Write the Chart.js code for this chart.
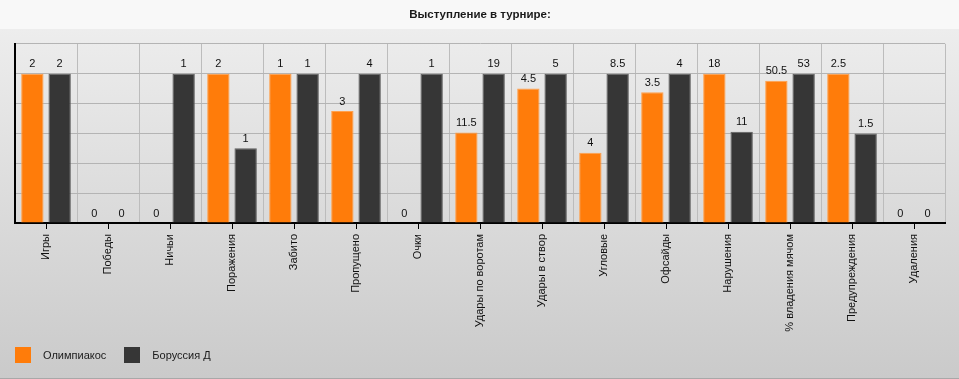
<!DOCTYPE html>
<html>
<head>
<meta charset="utf-8">
<script src="https://cdn.jsdelivr.net/npm/chart.js@4.4.3/dist/chart.umd.min.js"></script>
<style>
    html, body { margin: 0; padding: 0; }
    body { width: 959px; height: 379px; position: relative; overflow: hidden; font-family: Arial, "Liberation Sans", sans-serif; }
    #chart { position: absolute; left: 0; top: 0; }
    #legend { position: absolute; left: 15px; top: 347px; display: flex; align-items: center; font-size: 11px; color: #1a1a1a; }
    #legend .item { display: flex; align-items: center; margin-right: 18px; }
    #legend .box { width: 16px; height: 16px; margin-right: 12px; }
</style>
</head>
<body>
<canvas id="chart" width="959" height="379"></canvas>
<div id="legend"></div>
<script>
const categories = ['Игры', 'Победы', 'Ничьи', 'Поражения', 'Забито', 'Пропущено', 'Очки',
    'Удары по воротам', 'Удары в створ', 'Угловые', 'Офсайды', 'Нарушения',
    '% владения мячом', 'Предупреждения', 'Удаления'];
const teamNames = ['Олимпиакос', 'Боруссия Д'];
const olympiakos = [2, 0, 0, 2, 1, 3, 0, 11.5, 4.5, 4, 3.5, 18, 50.5, 2.5, 0];
const borussia = [2, 0, 1, 1, 1, 4, 1, 19, 5, 8.5, 4, 11, 53, 1.5, 0];
const yTicks = [0, 20, 40, 60, 80, 100, 120];

const FONT = 'Arial, "Liberation Sans", sans-serif';
const colors = ['#ff7c0a', '#363636'];
const borders = ['#ffa04d', '#5e5e5e'];

// each pair is drawn relative to the bigger value of the two (the bigger one = 100)
function share(a, b) {
    return a.map((v, i) => {
        const m = Math.max(v, b[i]);
        return m > 0 ? v / m * 100 : 0;
    });
}

const raw = [olympiakos, borussia];
const plotted = [share(olympiakos, borussia), share(borussia, olympiakos)];

const bgPlugin = {
    id: 'bg',
    beforeDraw(chart) {
        const c = chart.ctx;
        const w = chart.width, h = chart.height;
        const g = c.createLinearGradient(0, 29, 0, h);
        g.addColorStop(0, '#ededed');
        g.addColorStop(1, '#cacaca');
        c.save();
        c.fillStyle = g;
        c.fillRect(0, 0, w, h);
        c.fillStyle = '#f8f8f8';
        c.fillRect(0, 0, w, 29);
        c.fillStyle = '#a8a8a8';
        c.fillRect(0, h - 1, w, 1);
        c.restore();
    }
};

const valueLabels = {
    id: 'valueLabels',
    afterDatasetsDraw(chart) {
        const c = chart.ctx;
        c.save();
        c.font = '11px ' + FONT;
        c.fillStyle = '#111';
        c.textAlign = 'center';
        c.textBaseline = 'bottom';
        chart.data.datasets.forEach((ds, di) => {
            chart.getDatasetMeta(di).data.forEach((bar, i) => {
                c.fillText(String(raw[di][i]), bar.x, bar.y - 4);
            });
        });
        c.restore();
    }
};

const centerTicks = {
    id: 'centerTicks',
    afterDraw(chart) {
        const x = chart.scales.x;
        const c = chart.ctx;
        c.save();
        c.strokeStyle = '#000';
        c.lineWidth = 1;
        categories.forEach((_, i) => {
            const px = Math.round(x.getPixelForValue(i)) + 0.5;
            c.beginPath();
            c.moveTo(px, x.top + 1);
            c.lineTo(px, x.top + 6);
            c.stroke();
        });
        c.restore();
    }
};

const chart = new Chart(document.getElementById('chart').getContext('2d'), {
    type: 'bar',
    data: {
        labels: categories,
        datasets: teamNames.map((name, i) => ({
            label: name,
            data: plotted[i],
            backgroundColor: colors[i],
            borderColor: borders[i],
            borderWidth: ctx => (ctx.raw > 0 ? 1 : 0),
            categoryPercentage: 0.88,
            barPercentage: 0.82
        }))
    },
    options: {
        responsive: false,
        animation: false,
        devicePixelRatio: 1,
        layout: { padding: { left: 15, right: 14, top: 0, bottom: 0 } },
        plugins: {
            legend: { display: false },
            tooltip: { enabled: false },
            title: {
                display: true,
                text: 'Выступление в турнире:',
                color: '#1a1a1a',
                font: { family: FONT, size: 11.5, weight: 'bold' },
                padding: { top: 8, bottom: 22 }
            }
        },
        scales: {
            x: {
                grid: { color: '#bcbcbc', drawTicks: false, offset: true },
                border: { color: '#000', width: 2 },
                ticks: {
                    color: '#111',
                    font: { family: FONT, size: 11 },
                    minRotation: 90,
                    maxRotation: 90,
                    padding: 11,
                    autoSkip: false
                },
                afterFit: s => { s.height = 156; }
            },
            y: {
                min: yTicks[0],
                max: yTicks[yTicks.length - 1],
                afterBuildTicks: s => { s.ticks = yTicks.map(v => ({ value: v })); },
                grid: { color: '#b4b4b4', drawTicks: false },
                border: { color: '#000', width: 2 },
                ticks: { display: false },
                afterFit: s => { s.width = 0; }
            }
        }
    },
    plugins: [bgPlugin, valueLabels, centerTicks]
});

const legend = document.getElementById('legend');
teamNames.forEach((name, i) => {
    const item = document.createElement('div');
    item.className = 'item';
    const box = document.createElement('span');
    box.className = 'box';
    box.style.background = colors[i];
    const txt = document.createElement('span');
    txt.textContent = name;
    item.appendChild(box);
    item.appendChild(txt);
    legend.appendChild(item);
});
</script>
</body>
</html>
